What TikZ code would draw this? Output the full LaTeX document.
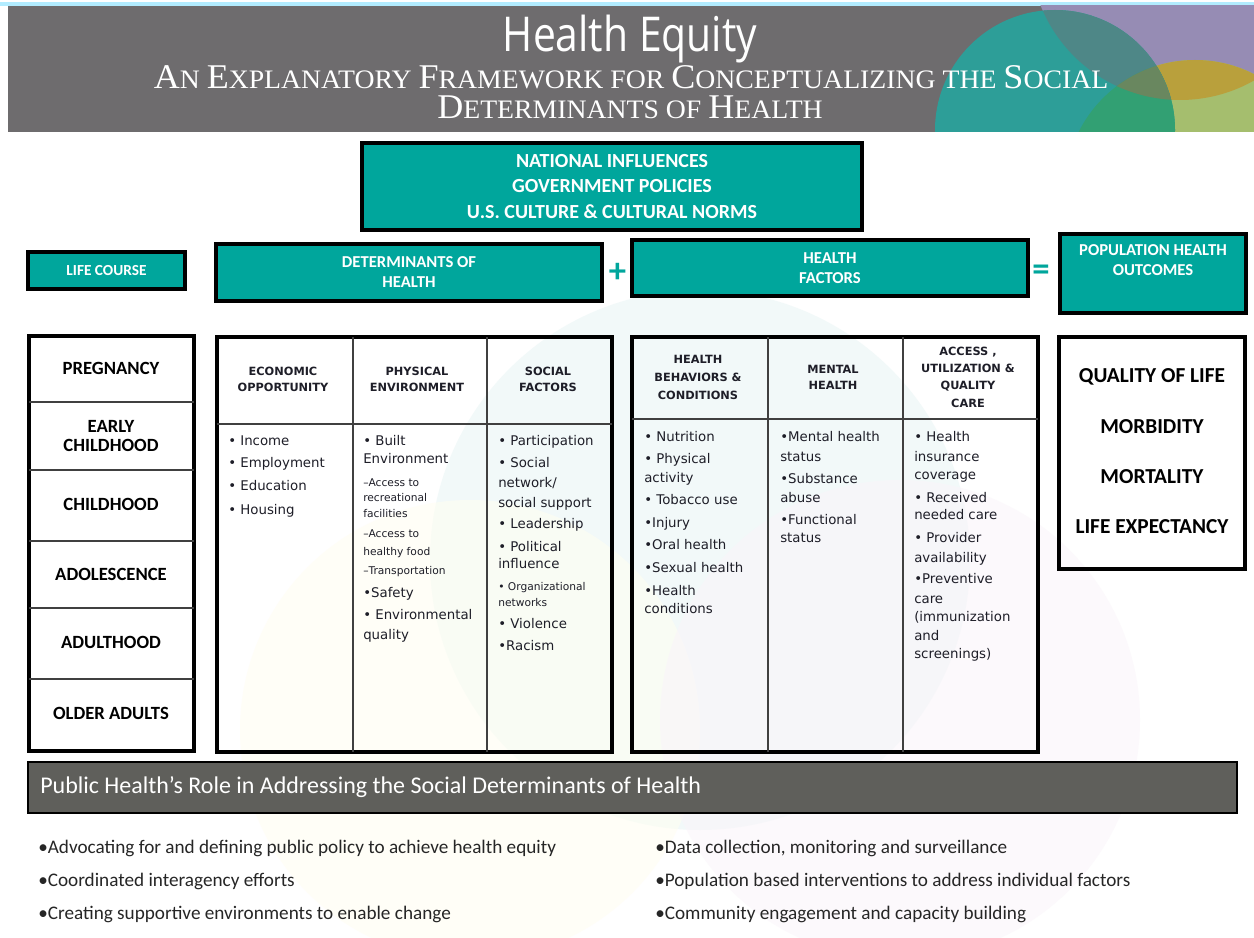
\documentclass[tikz,border=0pt]{standalone}
\usepackage{fontspec}
\newfontfamily\calf{Carlito}
\newfontfamily\verd{DejaVu Sans}
\newfontfamily\hfont[FakeStretch=0.85]{Open Sans}
\newfontfamily\serf{Liberation Serif}
\definecolor{tealbox}{RGB}{0,166,156}
\definecolor{bannergray}{RGB}{110,108,110}
\definecolor{bargray}{RGB}{95,95,91}
\definecolor{vpurple}{RGB}{150,140,180}
\definecolor{vteal}{RGB}{45,158,152}
\definecolor{vtealpurple}{RGB}{78,135,135}
\definecolor{volive}{RGB}{185,160,60}
\definecolor{vlgreen}{RGB}{165,190,110}
\definecolor{vgreen}{RGB}{50,160,115}
\definecolor{vtriple}{RGB}{105,135,95}
\definecolor{celltext}{RGB}{30,30,40}
\newcommand{\FS}[2]{{\fontsize{26}{26}\selectfont #1}{\fontsize{20}{20}\selectfont #2}}
\newcommand{\FSs}[1]{{\fontsize{20}{20}\selectfont #1}}
\newcommand{\smc}[1]{{\fontsize{8}{9}\selectfont #1}}
\begin{document}
\begin{tikzpicture}[x=0.75pt,y=-0.75pt,
  tbox/.style={draw=black, line width=3pt, fill=tealbox, text=white, font=\calf\bfseries, align=center, inner sep=0pt},
  outer/.style={draw=black, line width=3pt},
  inner/.style={draw=black!75, line width=1.4pt},
  cell/.style={anchor=base west, inner sep=0pt, font=\verd\fontsize{10}{12}\selectfont, text=celltext},
  head/.style={anchor=center, align=center, inner sep=0pt, font=\verd\bfseries\fontsize{8.5}{12}\selectfont, text=celltext},
  lab/.style={anchor=center, align=center, inner sep=0pt, font=\calf\bfseries\fontsize{14}{14.5}\selectfont, text=black},
  outc/.style={anchor=center, inner sep=0pt, font=\calf\bfseries\fontsize{16}{16}\selectfont, text=black},
  bul/.style={anchor=west, inner sep=0pt, font=\calf\fontsize{14.4}{14.4}\selectfont, text=black!85}
]
\useasboundingbox (0,0) rectangle (1254,938);
\fill[white] (0,0) rectangle (1254,938);

% faint background circles
\fill[teal!5] (700,560) circle (270);
\fill[yellow!5, opacity=0.6] (470,730) circle (230);
\fill[violet!4, opacity=0.6] (900,720) circle (240);

% banner
\fill[blue!25!cyan!30!white] (0,2) rectangle (1254,6);
\begin{scope}
  \clip (8,6) rectangle (1254,132);
  \fill[bannergray] (8,6) rectangle (1254,132);
  \fill[vpurple] (1180,-50) circle (150);
  \fill[vlgreen] (1195,190) circle (130);
  \begin{scope}
    \clip (1180,-50) circle (150);
    \fill[volive] (1195,190) circle (130);
  \end{scope}
  \fill[vteal] (1055,130) circle (120);
  \begin{scope}
    \clip (1055,130) circle (120);
    \fill[vtealpurple] (1180,-50) circle (150);
    \fill[vgreen] (1195,190) circle (130);
    \clip (1180,-50) circle (150);
    \fill[vtriple] (1195,190) circle (130);
  \end{scope}
\end{scope}
\node[anchor=base, inner sep=0pt, text=white, font=\hfont\fontsize{36}{36}\selectfont] (title) at (630,52) {Health Equity};
\node[anchor=base, inner sep=0pt, text=white, font=\serf\fontsize{20}{20}\selectfont] (sub1) at (631,89) {\scalebox{1.04}[1]{\FS{A}{N} \FS{E}{XPLANATORY} \FS{F}{RAMEWORK} \FSs{FOR} \FS{C}{ONCEPTUALIZING} \FSs{THE} \FS{S}{OCIAL}}};
\node[anchor=base, inner sep=0pt, text=white, font=\serf\fontsize{20}{20}\selectfont] (sub2) at (630,119) {\scalebox{1.04}[1]{\FS{D}{ETERMINANTS} \FSs{OF} \FS{H}{EALTH}}};

% teal header boxes
\node[tbox, minimum width=375pt, minimum height=65.25pt, font=\calf\bfseries\fontsize{15}{19}\selectfont] (nat) at (612,186.5) {NATIONAL INFLUENCES\\GOVERNMENT POLICIES\\U.S. CULTURE \& CULTURAL NORMS};
\node[tbox, minimum width=117.75pt, minimum height=27.75pt, font=\calf\bfseries\fontsize{11.5}{12}\selectfont] (life) at (106.5,270.5) {LIFE COURSE};
\node[tbox, minimum width=289.5pt, minimum height=42.75pt, font=\calf\bfseries\fontsize{12.5}{15}\selectfont] (det) at (409,272.5) {DETERMINANTS OF\\HEALTH};
\node[tbox, minimum width=297pt, minimum height=42pt, font=\calf\bfseries\fontsize{12.5}{15.5}\selectfont] (hf) at (830,268) {HEALTH\\FACTORS};
\node[tbox, minimum width=139.5pt, minimum height=59.25pt] (pop) at (1153,273.5) {};
\node[anchor=center, align=center, inner sep=0pt, text=white, font=\calf\bfseries\fontsize{12.5}{15}\selectfont] (poptxt) at (1153,260) {POPULATION HEALTH\\OUTCOMES};
\node[inner sep=0pt, text=tealbox, font=\calf\bfseries\fontsize{26}{26}\selectfont] (plus) at (617.5,273) {+};
\node[inner sep=0pt, text=tealbox, font=\calf\bfseries\fontsize{26}{26}\selectfont] (equals) at (1041,273) {=};

% life course column
\draw[outer] (29,336) rectangle (194,751);
\foreach \yy in {402,470,541,608,679} \draw[inner] (29,\yy) -- (194,\yy);
\node[lab] (preg) at (111,368) {PREGNANCY};
\node[lab] (early) at (111,436) {EARLY\\CHILDHOOD};
\node[lab] (child) at (111,504) {CHILDHOOD};
\node[lab] (adol) at (111,574) {ADOLESCENCE};
\node[lab] (adult) at (111,642) {ADULTHOOD};
\node[lab] (older) at (111,713) {OLDER ADULTS};

% determinants table
\draw[outer] (217,337) rectangle (612,752);
\draw[inner] (353,337) -- (353,752);
\draw[inner] (487,337) -- (487,752);
\draw[inner] (217,424) -- (612,424);
\node[head] (econh) at (283,379) {ECONOMIC\\OPPORTUNITY};
\node[head] (physh) at (417,379) {PHYSICAL\\ENVIRONMENT};
\node[head] (socih) at (548,379) {SOCIAL\\FACTORS};
\foreach \yy/\tt [count=\i] in {445/{• Income},467/{• Employment},490/{• Education},514/{• Housing}}
  \node[cell] (econ\i) at (228,\yy) {\tt};
\foreach \yy/\tt [count=\i] in {445/{• Built},463/{Environment},486/{\smc{–Access to}},501/{\smc{recreational}},517/{\smc{facilities}},537/{\smc{–Access to}},555/{\smc{healthy food}},574/{\smc{–Transportation}},597/{•Safety},619/{• Environmental},639/{quality}}
  \node[cell] (phys\i) at (363,\yy) {\tt};
\foreach \yy/\tt [count=\i] in {445/{• Participation},467/{• Social},487/{network/},507/{social support},528/{• Leadership},551/{• Political},568/{influence},590/{\smc{• Organizational}},606/{\smc{networks}},628/{• Violence},650/{•Racism}}
  \node[cell] (soci\i) at (498,\yy) {\tt};

% health factors table
\draw[outer] (632,337) rectangle (1038,752);
\draw[inner] (768,337) -- (768,752);
\draw[inner] (903,337) -- (903,752);
\draw[inner] (632,419) -- (1038,419);
\node[head, font=\verd\bfseries\fontsize{8.5}{13.5}\selectfont] (hbh) at (698,377.5) {HEALTH\\BEHAVIORS \&\\CONDITIONS};
\node[head] (mhh) at (833,377.5) {MENTAL\\HEALTH};
\node[head, font=\verd\bfseries\fontsize{8.5}{13}\selectfont] (acch) at (968,377) {ACCESS ,\\UTILIZATION \&\\QUALITY\\CARE};
\foreach \yy/\tt [count=\i] in {441/{• Nutrition},463/{• Physical},482/{activity},504/{• Tobacco use},527/{•Injury},549/{•Oral health},572/{•Sexual health},595/{•Health},613/{conditions}}
  \node[cell] (hb\i) at (644,\yy) {\tt};
\foreach \yy/\tt [count=\i] in {441/{•Mental health},461/{status},483/{•Substance},502/{abuse},524/{•Functional},542/{status}}
  \node[cell] (mh\i) at (780,\yy) {\tt};
\foreach \yy/\tt [count=\i] in {441/{• Health},461/{insurance},479/{coverage},502/{• Received},519/{needed care},542/{• Provider},562/{availability},583/{•Preventive},603/{care},621/{(immunization},640/{and},658/{screenings)}}
  \node[cell] (acc\i) at (914,\yy) {\tt};

% outcomes
\draw[outer] (1059,337) rectangle (1245,569);
\node[outc] (qol) at (1152,377) {QUALITY OF LIFE};
\node[outc] (morb) at (1152,427) {MORBIDITY};
\node[outc] (mort) at (1152,477) {MORTALITY};
\node[outc] (lifeexp) at (1152,527) {LIFE EXPECTANCY};

% public health bar
\draw[fill=bargray, draw=black, line width=1.2pt] (28,762) rectangle (1237,813);
\node[anchor=west, inner sep=0pt, text=white, font=\calf\fontsize{18}{18}\selectfont] (bartxt) at (40,787) {Public Health’s Role in Addressing the Social Determinants of Health};

% bottom bullets
\node[bul] (b1) at (38,848) {•Advocating for and defining public policy to achieve health equity};
\node[bul] (b2) at (38,881) {•Coordinated interagency efforts};
\node[bul] (b3) at (38,914) {•Creating supportive environments to enable change};
\node[bul] (b4) at (655,848) {•Data collection, monitoring and surveillance};
\node[bul] (b5) at (655,881) {•Population based interventions to address individual factors};
\node[bul] (b6) at (655,914) {•Community engagement and capacity building};
\end{tikzpicture}
\end{document}
